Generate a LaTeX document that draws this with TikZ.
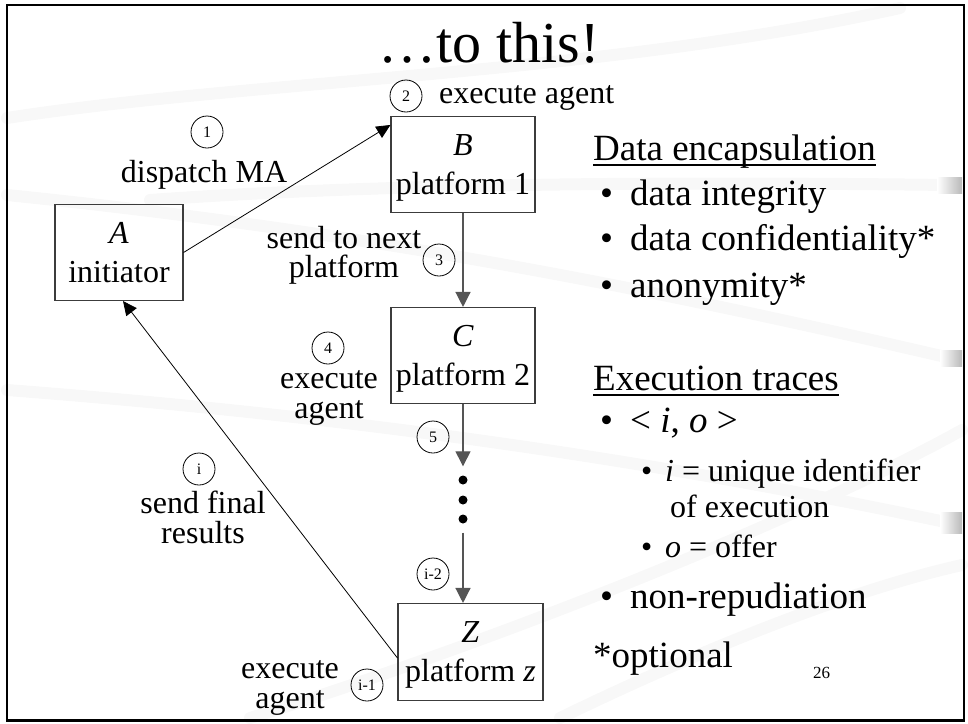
\documentclass[tikz,border=0pt]{standalone}
\usepackage{fontspec}
\setmainfont{Liberation Serif}
\usetikzlibrary{arrows.meta, positioning, calc}
\definecolor{boxgray}{RGB}{60, 60, 60}
\definecolor{flowgray}{RGB}{85, 85, 85}
\definecolor{swooshgray}{RGB}{248, 248, 248}
\tikzstyle{platform} = [rectangle, minimum width=144pt, minimum height=96pt, align=center, draw=boxgray, line width=1.1pt, inner sep=0pt, text depth=0pt, font=\fontsize{32}{39}\selectfont]
\tikzstyle{stepnum} = [circle, draw=black, line width=0.8pt, minimum size=32pt, inner sep=0pt, font=\fontsize{16}{16}\selectfont]
\tikzstyle{steplabel} = [align=center, inner sep=0pt, font=\fontsize{32}{30}\selectfont]
\tikzstyle{flowarrow} = [line width=1.3pt, draw=flowgray, -{Triangle[length=15pt,width=15pt]}]
\tikzstyle{thinarrow} = [line width=0.8pt, -{Triangle[length=14pt,width=13pt]}]
\tikzstyle{slidetext} = [anchor=base west, inner sep=0pt, font=\fontsize{37}{40}\selectfont]
\tikzstyle{subtext} = [anchor=base west, inner sep=0pt, font=\fontsize{32}{34}\selectfont]
\tikzstyle{swoosh} = [draw=swooshgray, line width=12pt, line cap=round]
\tikzstyle{dotmark} = [circle, fill=black, inner sep=0pt, minimum size=9pt]

\begin{document}
\begin{tikzpicture}[x=1pt, y=-1pt]
  \useasboundingbox (0,0) rectangle (968,723);

  % faint background swooshes
  \draw[swoosh] (7,118) .. controls (250,80) and (600,75) .. (900,8);
  \draw[swoosh] (150,200) .. controls (400,182) and (700,182) .. (950,185);
  \draw[swoosh] (7,195) .. controls (400,235) and (700,300) .. (950,358);
  \draw[swoosh] (7,390) .. controls (400,420) and (700,470) .. (950,523);
  \draw[swoosh] (250,718) .. controls (500,640) and (800,520) .. (962,430);
  \draw[swoosh] (560,718) .. controls (700,650) and (850,590) .. (962,565);
  \shade[left color=white, right color=gray!55] (937,177) rectangle (962,193);
  \shade[left color=white, right color=gray!55] (940,350) rectangle (962,366);
  \shade[left color=white, right color=gray!55] (940,512) rectangle (962,533);

  % slide frame and title
  \draw[line width=2.5pt] (7,5) rectangle (964,720.5);
  \node[inner sep=0pt, anchor=base, font=\fontsize{58}{60}\selectfont] (title) at (489,62) {…to this!};

  % agent platforms
  \node[platform, minimum width=128pt] (A) at (119,252.5) {\textit{A}\\initiator};
  \node[platform] (B) at (463,164.5) {\textit{B}\\platform 1};
  \node[platform] (C) at (463,355.5) {\textit{C}\\platform 2};
  \node[platform, minimum width=145pt, minimum height=97pt] (Z) at (470.5,652) {\textit{Z}\\platform \textit{z}};
  \node[dotmark] (dotA) at (463,480) {};
  \node[dotmark] (dotB) at (463,500) {};
  \node[dotmark] (dotC) at (463,519) {};

  % steps
  \node[stepnum] (n1) at (207,132) {1};
  \node[steplabel, anchor=base] (dispatch) at (204,182) {dispatch MA};
  \node[stepnum] (n2) at (406,96) {2};
  \node[steplabel, anchor=base west] (execB) at (439,103) {execute agent};
  \node[stepnum] (n3) at (439,260) {3};
  \node[steplabel, font=\fontsize{32}{29}\selectfont] (sendnext) at (344,255) {send to next\\platform};
  \node[stepnum] (n4) at (328,348) {4};
  \node[steplabel] (execC) at (329,398) {execute\\agent};
  \node[stepnum] (n5) at (433,437) {5};
  \node[stepnum] (n6) at (433,574) {i-2};
  \node[stepnum] (n7) at (367,685) {i-1};
  \node[steplabel] (execZ) at (290,688) {execute\\agent};
  \node[stepnum] (n8) at (199,469) {i};
  \node[steplabel] (sendfinal) at (203,517) {send final\\results};

  \draw[thinarrow] (A.east) -- ([yshift=-9pt]B.north west);
  \draw[flowarrow] (B) -- (C);
  \draw[flowarrow, shorten >=9pt] (C) -- (dotA);
  \draw[flowarrow, shorten <=9pt] (dotC) -- (dotC |- Z.north);
  \draw[thinarrow] ([yshift=-6pt]Z.west) -- ([xshift=4pt]A.south);

  % properties
  \node[slidetext] (dataenc) at (593,160) {Data encapsulation};
  \draw[line width=1.5pt] ([yshift=-5pt]dataenc.base west) -- ([yshift=-5pt]dataenc.base east);
  \node[slidetext] (integ) at (600,205) {\makebox[30pt][l]{\textbullet}data integrity};
  \node[slidetext] (confid) at (600,250) {\makebox[30pt][l]{\textbullet}data confidentiality*};
  \node[slidetext] (anon) at (600,297) {\makebox[30pt][l]{\textbullet}anonymity*};
  \node[slidetext] (exectr) at (593,390) {Execution traces};
  \draw[line width=1.5pt] ([yshift=-5pt]exectr.base west) -- ([yshift=-5pt]exectr.base east);
  \node[slidetext] (pair) at (600,432) {\makebox[30pt][l]{\textbullet}< \textit{i}, \textit{o} >};
  \node[subtext] (ident) at (641,481) {\makebox[24pt][l]{\textbullet}\textit{i} = unique identifier};
  \node[subtext] (ofexec) at (670,517) {of execution};
  \node[subtext] (offer) at (641,557) {\makebox[24pt][l]{\textbullet}\textit{o} = offer};
  \node[slidetext] (nonrep) at (600,608) {\makebox[30pt][l]{\textbullet}non-repudiation};
  \node[slidetext] (optional) at (593,667) {*optional};
  \node[inner sep=0pt, anchor=base west, font=\fontsize{17}{17}\selectfont] (pagenum) at (813,678) {26};
\end{tikzpicture}
\end{document}
